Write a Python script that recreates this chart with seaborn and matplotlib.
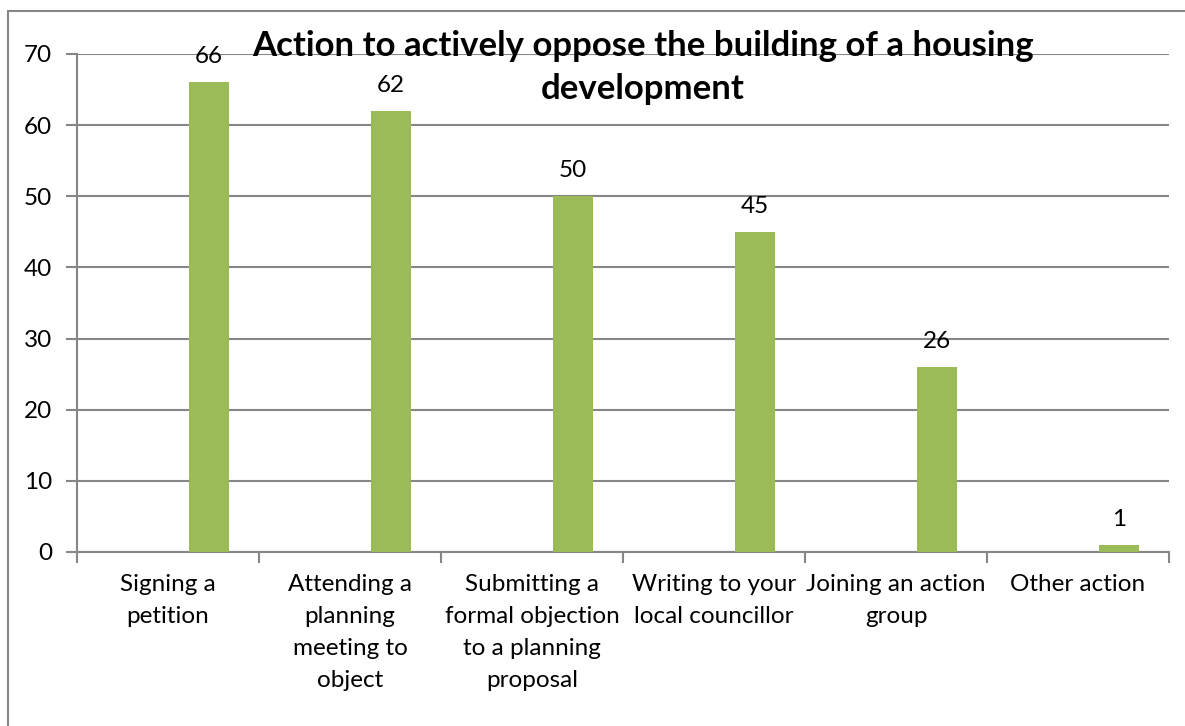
import matplotlib
matplotlib.use("Agg")
import matplotlib.pyplot as plt
from matplotlib.patches import Rectangle
import seaborn as sns
import pandas as pd

categories = [
    "Signing a\npetition",
    "Attending a\nplanning\nmeeting to\nobject",
    "Submitting a\nformal objection\nto a planning\nproposal",
    "Writing to your\nlocal councillor",
    "Joining an action\ngroup",
    "Other action",
]
values = [66, 62, 50, 45, 26, 1]
y_ticks = [0, 10, 20, 30, 40, 50, 60, 70]
title_lines = ["Action to actively oppose the building of a housing", "development"]

sns.set_style("white")
plt.rcParams["font.family"] = ["Lato", "DejaVu Sans"]
plt.rcParams["text.color"] = "black"
plt.rcParams["xtick.labelcolor"] = "black"
plt.rcParams["ytick.labelcolor"] = "black"

BAR = "#9BBB59"
GRID = "#868686"
FS = 17.5

fig = plt.figure(figsize=(11.85, 7.26), dpi=100)
ax = fig.add_axes([77 / 1185, 1 - 552 / 726, (1169 - 77) / 1185, (552 - 54) / 726])

df = pd.DataFrame({"action": categories, "count": values})
sns.barplot(data=df, x="action", y="count", color=BAR, width=0.22,
            saturation=1, linewidth=0, ax=ax, zorder=3)

n = len(categories)
shift = 0.225  # bars sit right of each category's centre
ax.set_xlim(-0.5 - shift, n - 0.5 - shift)
ax.set_ylim(0, 70)

# category labels centred in each slot, boundary ticks between slots
ax.set_xticks([i - shift for i in range(n)])
ax.set_xticklabels(categories, fontsize=FS, linespacing=1.65, color="black")
ax.tick_params(axis="x", which="major", length=0, pad=16)
ax.set_xticks([k - 0.5 - shift for k in range(n + 1)], minor=True)
ax.tick_params(axis="x", which="minor", length=8, width=1.5, color=GRID,
               direction="out", bottom=True)

ax.set_yticks(y_ticks)
ax.set_yticklabels([str(v) for v in y_ticks], fontsize=FS, color="black")
ax.tick_params(axis="y", length=8, width=1.5, color=GRID, direction="out",
               left=True, pad=10)

ax.yaxis.grid(True, color=GRID, linewidth=1.5, zorder=0)
ax.set_axisbelow(True)
for side in ("top", "right"):
    ax.spines[side].set_visible(False)
for side in ("left", "bottom"):
    ax.spines[side].set_color(GRID)
    ax.spines[side].set_linewidth(1.5)

ax.set_xlabel("")
ax.set_ylabel("")

for i, v in enumerate(values):
    ax.annotate(str(v), (i, v), xytext=(0, 11), textcoords="offset points",
                ha="center", va="bottom", fontsize=FS, color="black")

# two-line title, each line placed on its own baseline
for line, base_px in zip(title_lines, (56, 99)):
    fig.text(643 / 1185, 1 - base_px / 726, line, ha="center", va="baseline",
             fontsize=25, fontweight="bold", color="black")

# chart frame
fig.patches.append(Rectangle((8 / 1185, -0.1), 1.2, 1 - 11 / 726 + 0.1,
                             transform=fig.transFigure, fill=False,
                             edgecolor=GRID, linewidth=1.5))

fig.savefig("out.png", dpi=100)
